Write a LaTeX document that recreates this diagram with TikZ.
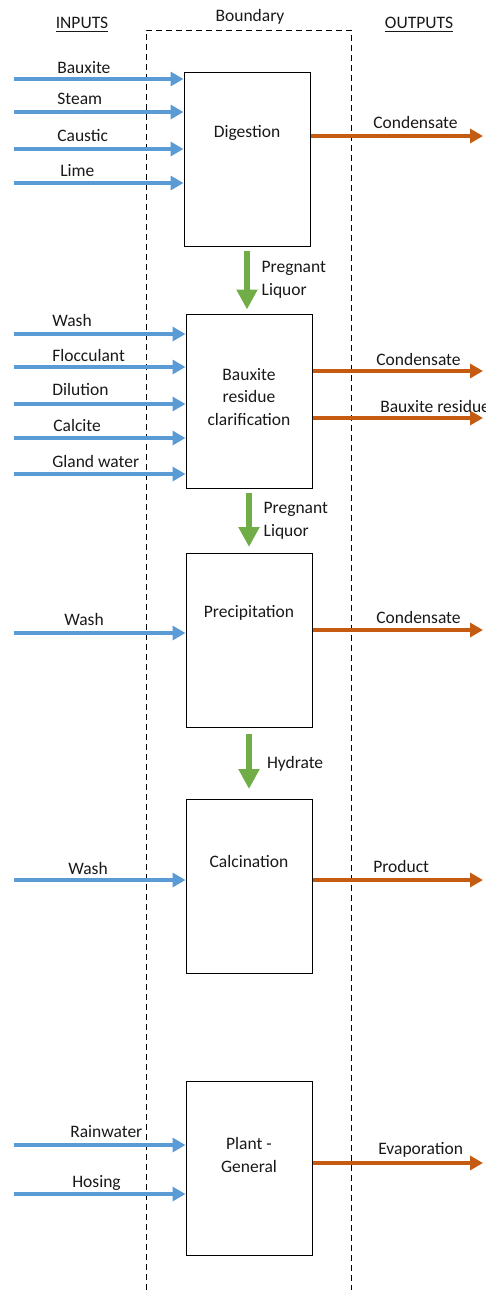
\documentclass[tikz,border=0pt]{standalone}
\usepackage{fontspec}
\setmainfont{Carlito}
\usetikzlibrary{arrows.meta, positioning}
\definecolor{inblue}{HTML}{5B9BD5}
\definecolor{outorange}{HTML}{C55A11}
\definecolor{flowgreen}{HTML}{70AD47}
\tikzset {
    x=0.6pt, y=-0.6pt,
    every node/.style={font=\fontsize{10.5}{13.5}\selectfont, inner sep=0pt, text=black!90},
    proc/.style={draw, line width=0.6pt, minimum width=75.6pt, minimum height=104.4pt},
    lbl/.style={anchor=base west},
    inflow/.style={draw=inblue, line width=2.4pt, -{Triangle[length=7.8pt, width=8.4pt]}},
    outflow/.style={draw=outorange, line width=2.4pt, -{Triangle[length=7.8pt, width=8.4pt]}},
    mainflow/.style={draw=flowgreen, line width=3.6pt, -{Triangle[length=12pt, width=12pt]}},
    boundary/.style={dash pattern=on 3.6pt off 2.4pt, line width=0.6pt}
}
\begin{document}
\begin{tikzpicture}
    \useasboundingbox (0,0) rectangle (485,1290);

    % headings and boundary
    \node (inputs) at (82,25) {\underline{INPUTS}};
    \node (outputs) at (419,25) {\underline{OUTPUTS}};
    \node (bnd) at (250,17) {Boundary};
    \draw[boundary] (146,1300) -- (146,30) -- (351,30) -- (351,1300);

    % process boxes
    \node[proc] (dig) at (247,159) {};
    \node[proc] (clar) at (249,401) {};
    \node[proc] (prec) at (249,640.5) {};
    \node[proc] (calc) at (249,886.5) {};
    \node[proc] (plant) at (249,1168) {};
    \node (tdig) at (247,133) {Digestion};
    \node[align=center] (tclar) at (249,397) {Bauxite\\residue\\clarification};
    \node (tprec) at (249,613) {Precipitation};
    \node (tcalc) at (249,861) {Calcination};
    \node[align=center] (tplant) at (249,1155) {Plant -\\General};

    % inputs
    \coordinate (i1) at (14,79);
    \coordinate (i2) at (14,112);
    \coordinate (i3) at (14,149);
    \coordinate (i4) at (14,183);
    \draw[inflow] (i1) -- (i1 -| dig.west);
    \draw[inflow] (i2) -- (i2 -| dig.west);
    \draw[inflow] (i3) -- (i3 -| dig.west);
    \draw[inflow] (i4) -- (i4 -| dig.west);
    \node[lbl] (lbauxite) at (57,73) {Bauxite};
    \node[lbl] (lsteam) at (57,104) {Steam};
    \node[lbl] (lcaustic) at (57,141) {Caustic};
    \node[lbl] (llime) at (60,176) {Lime};

    \coordinate (i5) at (14,334);
    \coordinate (i6) at (14,367);
    \coordinate (i7) at (14,404);
    \coordinate (i8) at (14,438);
    \coordinate (i9) at (14,474);
    \draw[inflow] (i5) -- (i5 -| clar.west);
    \draw[inflow] (i6) -- (i6 -| clar.west);
    \draw[inflow] (i7) -- (i7 -| clar.west);
    \draw[inflow] (i8) -- (i8 -| clar.west);
    \draw[inflow] (i9) -- (i9 -| clar.west);
    \node[lbl] (lwash1) at (52,326) {Wash};
    \node[lbl] (lfloc) at (52,361) {Flocculant};
    \node[lbl] (ldil) at (52,395) {Dilution};
    \node[lbl] (lcalcite) at (53,431) {Calcite};
    \node[lbl] (lgland) at (52,467) {Gland water};

    \coordinate (i10) at (14,633);
    \draw[inflow] (i10) -- (i10 -| prec.west);
    \node[lbl] (lwash2) at (64,625) {Wash};

    \coordinate (i11) at (14,880);
    \draw[inflow] (i11) -- (i11 -| calc.west);
    \node[lbl] (lwash3) at (68,874) {Wash};

    \coordinate (i12) at (14,1145);
    \coordinate (i13) at (14,1194);
    \draw[inflow] (i12) -- (i12 -| plant.west);
    \draw[inflow] (i13) -- (i13 -| plant.west);
    \node[lbl] (lrain) at (70,1137) {Rainwater};
    \node[lbl] (lhose) at (72,1187) {Hosing};

    % outputs
    \coordinate (o1) at (483,136);
    \coordinate (o2) at (483,371);
    \coordinate (o3) at (483,418);
    \coordinate (o4) at (483,630);
    \coordinate (o5) at (483,880);
    \coordinate (o6) at (483,1163);
    \draw[outflow] (o1 -| dig.east) -- (o1);
    \draw[outflow] (o2 -| clar.east) -- (o2);
    \draw[outflow] (o3 -| clar.east) -- (o3);
    \draw[outflow] (o4 -| prec.east) -- (o4);
    \draw[outflow] (o5 -| calc.east) -- (o5);
    \draw[outflow] (o6 -| plant.east) -- (o6);
    \node[lbl] (lcond1) at (373,128) {Condensate};
    \node[lbl] (lcond2) at (376,365) {Condensate};
    \node[lbl] (lresid) at (380,412) {Bauxite residue};
    \node[lbl] (lcond3) at (376,623) {Condensate};
    \node[lbl] (lprod) at (373,872) {Product};
    \node[lbl] (levap) at (378,1154) {Evaporation};

    % main stream
    \draw[mainflow, shorten <=2.4pt, shorten >=2.4pt] (dig.south) -- (dig.south |- clar.north)
        node[midway, right, xshift=7pt, align=left] (preg1) {Pregnant\\Liquor};
    \draw[mainflow, shorten <=2.4pt, shorten >=3.6pt] (clar.south) -- (prec.north)
        node[midway, right, xshift=7pt, align=left] (preg2) {Pregnant\\Liquor};
    \draw[mainflow, shorten <=3.6pt, shorten >=6pt] (prec.south) -- (calc.north)
        node[midway, right, xshift=9pt] (hyd) {Hydrate};
\end{tikzpicture}
\end{document}
